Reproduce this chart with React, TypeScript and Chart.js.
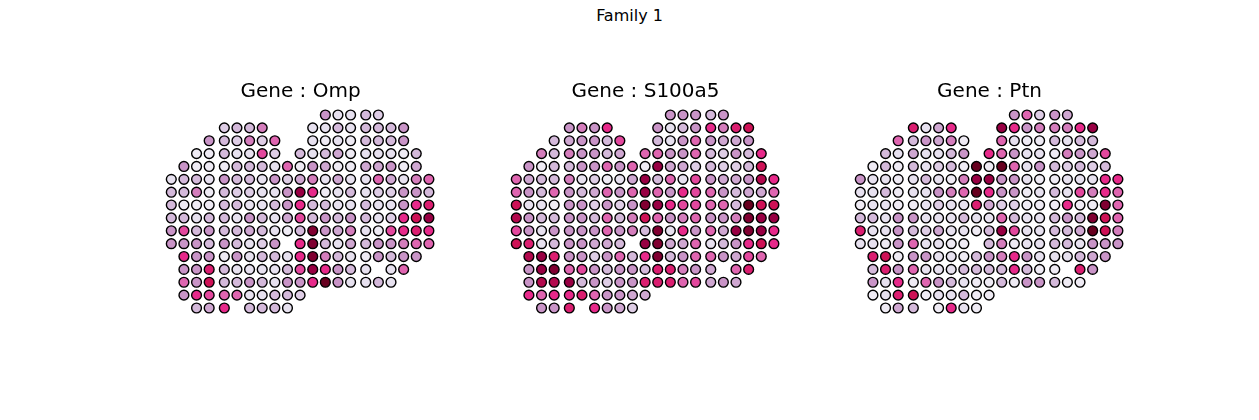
import React, { useEffect, useRef } from "react";
import { Chart, registerables } from "chart.js";

Chart.register(...registerables);

const figureTitle = "Family 1";
const genes = ["Omp", "S100a5", "Ptn"];

// x position (in spot units) of each array column
const colX = [0, 1, 2, 3, 4.2, 5.2, 6.2, 7.2, 8.2, 9.2, 10.2, 11.2, 12.2, 13.2, 14.2, 15.4, 16.4, 17.4, 18.4, 19.4, 20.4];

const range = (a: number, b: number) => {
  const out: number[] = [];
  for (let i = a; i <= b; i++) out.push(i);
  return out;
};

// columns present in each row (row 0 = top)
const rowCols: number[][] = [
  range(12, 16),
  [...range(4, 7), ...range(11, 18)],
  [...range(3, 8), ...range(11, 18)],
  [...range(2, 8), ...range(10, 19)],
  range(1, 19),
  range(0, 20),
  range(0, 20),
  range(0, 20),
  range(0, 20),
  range(0, 20),
  [...range(0, 8), ...range(10, 20)],
  range(1, 19),
  [...range(1, 15), 17, 18],
  range(1, 17),
  range(1, 10),
  [2, 3, 4, 6, 7, 8, 9],
];

// expression level per spot (0 = lowest, 8 = highest), row by row
const ompValues: number[][] = [
  [3, 1, 1, 2, 1.5],
  [1.5, 2, 2, 3.5, 1, 1, 2, 1, 2, 2, 2, 3],
  [3, 2, 1.5, 3.5, 1.5, 4, 1, 0.5, 1, 0.5, 2, 2, 2, 3],
  [0.5, 0.5, 2, 1, 1, 4.5, 1.5, 2, 1, 2, 2.5, 0.5, 1, 1, 1, 0.5, 2],
  [3, 0.5, 0.5, 0.5, 2, 2, 2, 1, 4, 0.5, 3, 2.5, 0.5, 0.5, 2.5, 2.5, 3, 0.5, 2.5],
  [1, 2, 2, 1, 3, 2, 2, 1, 3, 1.5, 2.5, 3.5, 1, 2.5, 1, 1, 4, 2.5, 1, 3.5, 4],
  [2, 2, 3.5, 0.5, 2, 1.5, 1.5, 1, 1, 3, 7, 5, 0.5, 1, 2, 1, 1.5, 1.5, 3, 3, 2],
  [2, 0.5, 0.5, 0.5, 2, 2, 1, 1, 2, 3, 5, 2, 2, 1, 1, 2, 1, 1, 3, 5, 5.5],
  [2, 2, 1, 2, 2, 1, 3, 2, 1, 2.5, 4.5, 2, 3, 2, 3, 2, 1, 1.5, 5, 6, 7],
  [3, 4.5, 2, 3, 2, 2, 2.5, 2, 1, 0.5, 2, 7.5, 3, 2.5, 3.5, 1, 0.5, 4.5, 5, 5.5, 5],
  [3, 3, 3, 2, 3, 2, 1, 1.5, 3, 5, 7.5, 2, 1, 2.5, 2, 3, 3, 3.5, 4, 4],
  [5, 3, 3, 0.5, 3, 1, 2, 2, 1, 5, 7.5, 3.5, 2, 1, 0.5, 3, 2, 3, 3],
  [3, 3, 5.5, 2, 1, 1, 1, 1, 2, 4.5, 7, 5, 3, 2, 1, 1, 4],
  [4, 3, 6, 2, 2, 3, 2, 1, 3, 3, 5, 8, 3, 1, 1, 2, 1],
  [3, 5, 4.5, 4, 4, 1, 1, 2, 2, 1.5],
  [2, 2.5, 5, 2, 2, 2, 1],
];

const s100a5Values: number[][] = [
  [3, 3, 3, 2, 3],
  [3, 3.5, 3, 5, 3, 1, 2, 3, 5, 3.5, 5.5, 6],
  [2, 2.5, 3, 3, 2, 4.5, 2, 1, 3, 4, 3, 2.5, 2.5, 3],
  [3.5, 2, 3.5, 3, 3, 2, 2.5, 4, 4, 3, 3, 4, 2, 1.5, 3, 2, 5],
  [3, 0.5, 2, 2, 3, 3, 4, 3, 4, 0.5, 7, 2.5, 2.5, 1.5, 2, 1.5, 1.5, 2, 6],
  [4, 2.5, 2, 2, 3.5, 1, 1.5, 0.5, 1, 2.5, 7, 2, 4, 1, 4.5, 3, 2.5, 2.5, 3, 6.5, 5],
  [4, 3, 2, 4, 3, 2, 2.5, 4, 3, 4, 7, 4, 3, 5, 4.5, 4, 3, 2, 2.5, 2.5, 4],
  [6, 1, 1, 0.5, 3, 3, 1.5, 3, 1.5, 3, 7.5, 7, 5, 4.5, 4.5, 4, 4, 2, 8, 6, 6],
  [6.5, 3, 2, 2, 3, 3, 2, 4, 2, 3.5, 6, 4, 3, 3.5, 4, 3, 3, 3.5, 7.5, 7, 7],
  [4.5, 3, 1, 3, 3, 3, 3, 4, 3, 3.5, 2, 7.5, 1, 5, 3, 4, 2.5, 7, 7.5, 7, 5],
  [6, 5.5, 1, 2, 3, 3, 2.5, 2.5, 2, 7, 7.5, 2.5, 2.5, 4, 1, 2, 3, 5, 6, 5],
  [6.5, 7, 5.5, 3, 3, 1.5, 3, 4, 2, 5, 7.5, 2, 3, 4, 4, 3, 2.5, 4.5, 4],
  [3, 7, 7.5, 4, 4.5, 3, 2, 3, 3, 2, 5.5, 5.5, 3.5, 3, 2.5, 4, 5.5],
  [3, 6.5, 6.5, 7, 2, 3, 1.5, 3, 3, 5.5, 5.5, 5.5, 4, 4.5, 2.5, 3, 2.5],
  [5, 4, 5, 5, 5.5, 4, 3, 3, 2.5, 2.5],
  [3, 3, 5.5, 5, 3, 2.5, 1.5],
];

const ptnValues: number[][] = [
  [3, 4, 1.5, 3, 2.5],
  [5.5, 1, 2.5, 5, 7, 5, 3, 3.5, 3.5, 3.5, 5, 7],
  [4, 2, 3, 2.5, 3.5, 0.5, 4, 1, 0.5, 0.5, 2, 1, 2, 2],
  [2, 1, 2.5, 1, 1, 2, 3, 5, 4, 3, 1, 1, 0.5, 3.5, 3, 2.5, 4.5],
  [0.5, 2, 0.5, 2, 1, 1.5, 2, 0.5, 8, 0.5, 8, 4, 1, 3, 2, 1.5, 2, 1.5, 2],
  [3, 1, 1, 0.5, 1, 2, 1, 0.5, 3.5, 7, 7, 3, 3, 1, 0.5, 0.5, 1, 1, 1, 5, 5],
  [1, 1, 2, 0.5, 1, 1, 3, 3.5, 4, 8, 5, 3, 3, 0.5, 1, 2, 1, 4.5, 3.5, 5, 4],
  [0.5, 1, 1, 0.5, 0.5, 1, 1.5, 1, 1, 5.5, 2.5, 1.5, 1.5, 0.5, 0.5, 0.5, 5, 0.5, 0.5, 7.5, 4],
  [2, 2, 1, 3, 3, 1, 1, 1, 2, 1, 1, 4, 2, 1, 1, 2, 3, 2, 7.5, 6, 4],
  [5.5, 1, 1, 3, 2, 1.5, 2.5, 1, 1, 0.5, 2, 7, 4.5, 1, 1, 2, 2, 2.5, 8, 6, 3.5],
  [1, 1, 0.5, 3, 4, 1, 1, 0.5, 0.5, 2, 3.5, 0.5, 1, 1, 2, 2, 1, 3, 3, 3],
  [5.5, 6, 0.5, 3, 3, 1, 1, 0.5, 2, 3, 3.5, 5, 3, 1, 1, 1, 2, 2.5, 3],
  [2, 5.5, 3, 4, 1, 1, 1, 2, 2, 2, 2, 5, 2, 0.5, 0.5, 5.5, 3],
  [3, 1, 5, 0.5, 4, 3, 2, 1, 0.5, 0.5, 2, 0.5, 3, 3, 2, 0.5, 0.5],
  [0.5, 1, 5.5, 6, 0.5, 1, 1, 2, 0.5, 0.5],
  [0.5, 2.5, 2, 0.5, 5, 1, 0.5],
];

const geneValues = [ompValues, s100a5Values, ptnValues];

// PuRd colour map stops
const purd = ["#f7f4f9", "#e7e1ef", "#d4b9da", "#c994c7", "#df65b0", "#e7298a", "#ce1256", "#980043", "#67001f"];

function hexToRgb(h: string) {
  return [parseInt(h.slice(1, 3), 16), parseInt(h.slice(3, 5), 16), parseInt(h.slice(5, 7), 16)];
}

function levelColor(v: number) {
  const c = Math.max(0, Math.min(8, v));
  const i = Math.min(7, Math.floor(c));
  const t = c - i;
  const a = hexToRgb(purd[i]);
  const b = hexToRgb(purd[i + 1]);
  const m = a.map((x, k) => Math.round(x + (b[k] - x) * t));
  return `rgb(${m[0]},${m[1]},${m[2]})`;
}

function Panel({ gene, values, left }: { gene: string; values: number[][]; left: number }) {
  const ref = useRef<HTMLCanvasElement | null>(null);
  useEffect(() => {
    const pts: { x: number; y: number }[] = [];
    const colors: string[] = [];
    rowCols.forEach((cols, r) => {
      cols.forEach((c, i) => {
        pts.push({ x: colX[c], y: r });
        colors.push(levelColor(values[r][i]));
      });
    });
    const chart = new Chart(ref.current as HTMLCanvasElement, {
      type: "scatter",
      data: {
        datasets: [
          {
            data: pts,
            backgroundColor: colors,
            borderColor: "#000000",
            borderWidth: 1.4,
            pointRadius: 4.9,
            pointHoverRadius: 4.9,
            clip: false,
          },
        ],
      },
      options: {
        animation: false,
        responsive: false,
        events: [],
        layout: { padding: 0, autoPadding: false },
        plugins: {
          legend: { display: false },
          tooltip: { enabled: false },
          title: {
            display: true,
            text: `Gene : ${gene}`,
            color: "#000000",
            font: { family: "'DejaVu Sans'", size: 20, weight: "normal" },
            padding: { top: 10, bottom: 0 },
          },
        },
        scales: {
          x: { type: "linear", display: false, min: -1.132, max: 21.597 },
          y: { type: "linear", display: false, reverse: true, min: -0.855, max: 15.932 },
        },
      },
    } as any);
    return () => chart.destroy();
  }, [gene, values]);
  return (
    <canvas
      ref={ref}
      width={287}
      height={250}
      style={{ position: "absolute", left, top: 70, width: 287, height: 250 }}
    />
  );
}

const panelLefts = [157, 502, 846];

export default function App() {
  return (
    <div
      style={{
        position: "fixed",
        left: 0,
        top: 0,
        width: 1259,
        height: 420,
        background: "#ffffff",
        overflow: "hidden",
      }}
    >
      <div
        style={{
          position: "absolute",
          left: 0,
          top: 6,
          width: 1259,
          textAlign: "center",
          fontFamily: "'DejaVu Sans'",
          fontSize: 16,
          lineHeight: "20px",
          color: "#000",
        }}
      >
        {figureTitle}
      </div>
      {genes.map((g, k) => (
        <Panel key={g} gene={g} values={geneValues[k]} left={panelLefts[k]} />
      ))}
    </div>
  );
}
